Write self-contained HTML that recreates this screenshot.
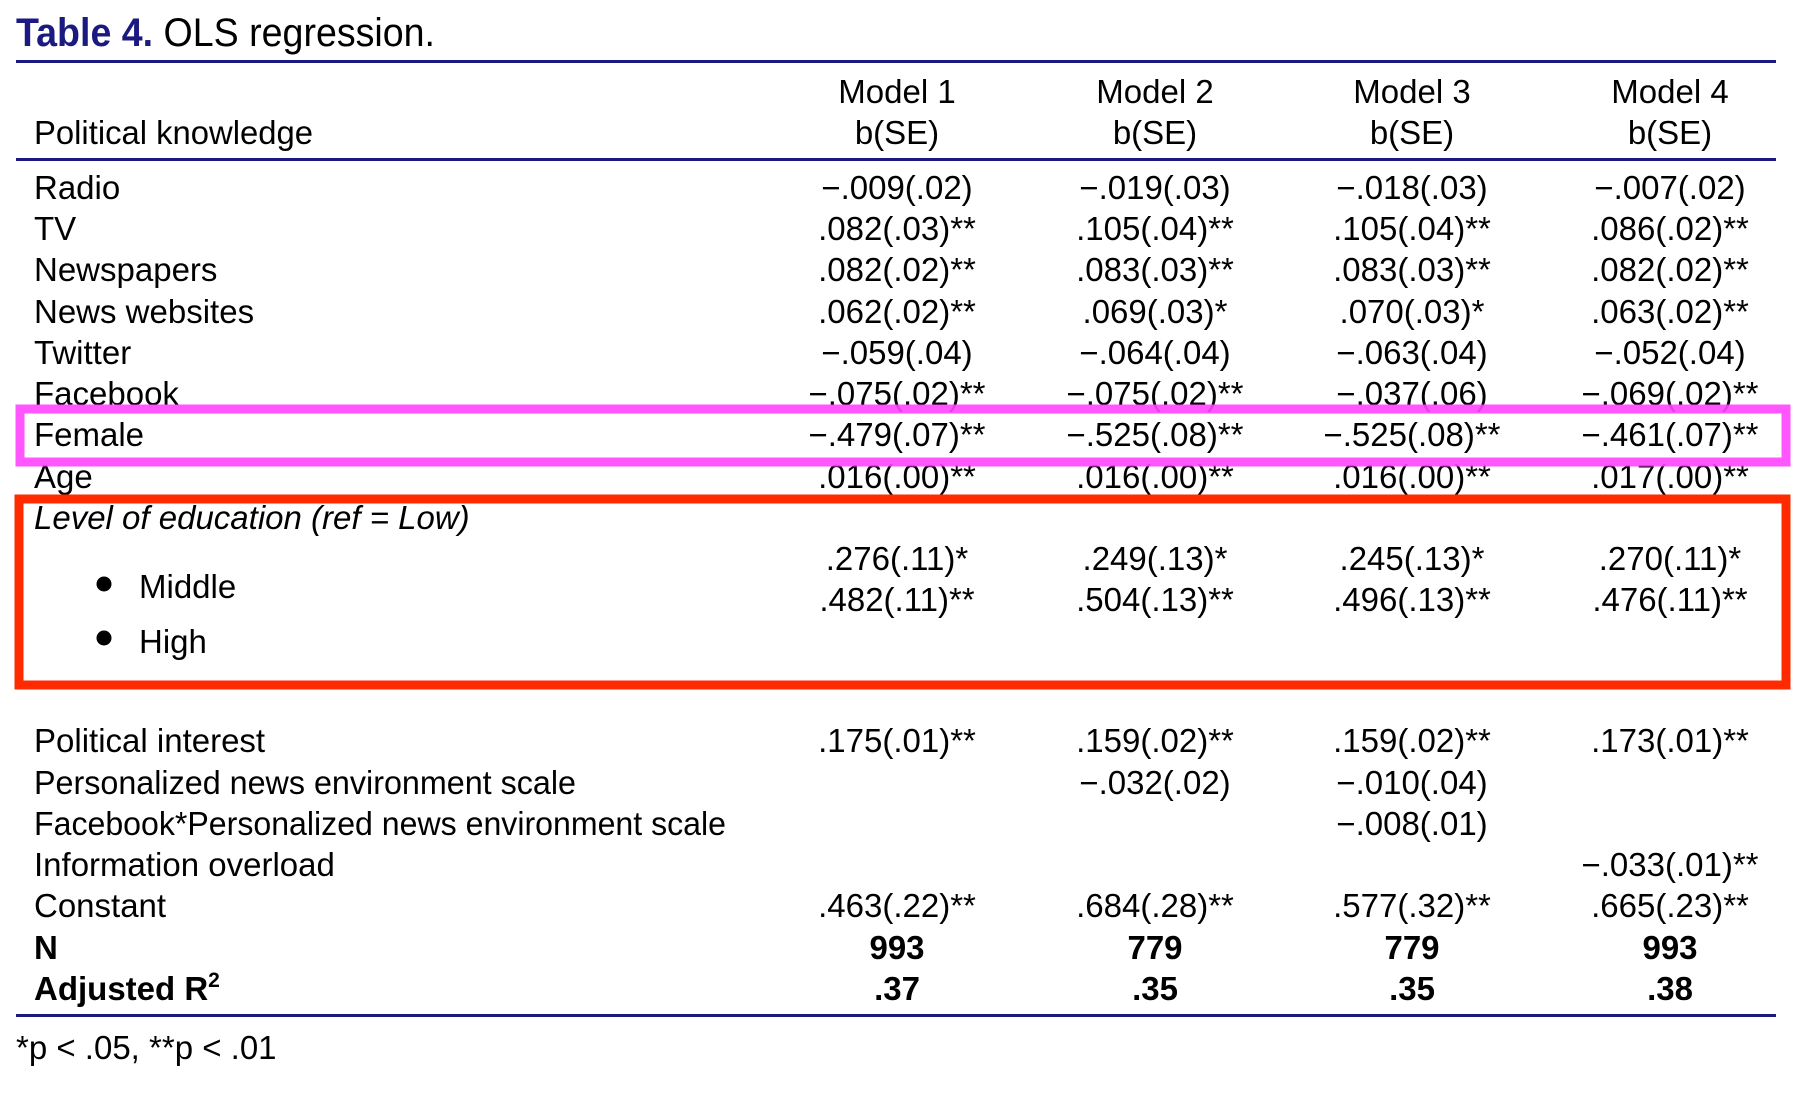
<!DOCTYPE html>
<html><head><meta charset="utf-8"><style>
html,body{margin:0;padding:0;background:#fff;}
svg{display:block;}
text{font-family:"Liberation Sans Narrow","Liberation Sans",sans-serif;font-size:33px;fill:#000;}
.v{text-anchor:middle;}
.b{font-weight:bold;}
</style></head><body>
<svg width="1796" height="1095" viewBox="0 0 1796 1095" xmlns="http://www.w3.org/2000/svg">
<text x="16" y="46" style="font-size:40px" textLength="419" lengthAdjust="spacingAndGlyphs"><tspan font-weight="bold" fill="#1a1a80">Table 4.</tspan> OLS regression.</text>
<rect x="16" y="60" width="1760" height="3" fill="#1a1a80"/>
<text class="v" x="897" y="103">Model 1</text><text class="v" x="897" y="144">b(SE)</text>
<text class="v" x="1155" y="103">Model 2</text><text class="v" x="1155" y="144">b(SE)</text>
<text class="v" x="1412" y="103">Model 3</text><text class="v" x="1412" y="144">b(SE)</text>
<text class="v" x="1670" y="103">Model 4</text><text class="v" x="1670" y="144">b(SE)</text>
<text x="34" y="144" textLength="279" lengthAdjust="spacingAndGlyphs">Political knowledge</text>
<rect x="16" y="158" width="1760" height="3" fill="#1a1a80"/>

<text x="34" y="199">Radio</text>
<text class="v" x="897" y="199">−.009(.02)</text><text class="v" x="1155" y="199">−.019(.03)</text><text class="v" x="1412" y="199">−.018(.03)</text><text class="v" x="1670" y="199">−.007(.02)</text>
<text x="34" y="240">TV</text>
<text class="v" x="897" y="240">.082(.03)**</text><text class="v" x="1155" y="240">.105(.04)**</text><text class="v" x="1412" y="240">.105(.04)**</text><text class="v" x="1670" y="240">.086(.02)**</text>
<text x="34" y="281">Newspapers</text>
<text class="v" x="897" y="281">.082(.02)**</text><text class="v" x="1155" y="281">.083(.03)**</text><text class="v" x="1412" y="281">.083(.03)**</text><text class="v" x="1670" y="281">.082(.02)**</text>
<text x="34" y="323">News websites</text>
<text class="v" x="897" y="323">.062(.02)**</text><text class="v" x="1155" y="323">.069(.03)*</text><text class="v" x="1412" y="323">.070(.03)*</text><text class="v" x="1670" y="323">.063(.02)**</text>
<text x="34" y="364">Twitter</text>
<text class="v" x="897" y="364">−.059(.04)</text><text class="v" x="1155" y="364">−.064(.04)</text><text class="v" x="1412" y="364">−.063(.04)</text><text class="v" x="1670" y="364">−.052(.04)</text>
<text x="34" y="405">Facebook</text>
<text class="v" x="897" y="405">−.075(.02)**</text><text class="v" x="1155" y="405">−.075(.02)**</text><text class="v" x="1412" y="405">−.037(.06)</text><text class="v" x="1670" y="405">−.069(.02)**</text>
<text x="34" y="446">Female</text>
<text class="v" x="897" y="446">−.479(.07)**</text><text class="v" x="1155" y="446">−.525(.08)**</text><text class="v" x="1412" y="446">−.525(.08)**</text><text class="v" x="1670" y="446">−.461(.07)**</text>
<text x="34" y="488">Age</text>
<text class="v" x="897" y="488">.016(.00)**</text><text class="v" x="1155" y="488">.016(.00)**</text><text class="v" x="1412" y="488">.016(.00)**</text><text class="v" x="1670" y="488">.017(.00)**</text>
<text x="34" y="529" font-style="italic">Level of education (ref = Low)</text>
<text class="v" x="897" y="570">.276(.11)*</text><text class="v" x="1155" y="570">.249(.13)*</text><text class="v" x="1412" y="570">.245(.13)*</text><text class="v" x="1670" y="570">.270(.11)*</text>
<text class="v" x="897" y="611">.482(.11)**</text><text class="v" x="1155" y="611">.504(.13)**</text><text class="v" x="1412" y="611">.496(.13)**</text><text class="v" x="1670" y="611">.476(.11)**</text>
<circle cx="104" cy="584" r="7.5" fill="#000"/><text x="139" y="598">Middle</text>
<circle cx="104" cy="638" r="7.5" fill="#000"/><text x="139" y="653">High</text>

<text x="34" y="752">Political interest</text>
<text class="v" x="897" y="752">.175(.01)**</text><text class="v" x="1155" y="752">.159(.02)**</text><text class="v" x="1412" y="752">.159(.02)**</text><text class="v" x="1670" y="752">.173(.01)**</text>
<text x="34" y="794" textLength="542" lengthAdjust="spacingAndGlyphs">Personalized news environment scale</text>
<text class="v" x="1155" y="794">−.032(.02)</text><text class="v" x="1412" y="794">−.010(.04)</text>
<text x="34" y="835" textLength="692" lengthAdjust="spacingAndGlyphs">Facebook*Personalized news environment scale</text>
<text class="v" x="1412" y="835">−.008(.01)</text>
<text x="34" y="876">Information overload</text>
<text class="v" x="1670" y="876">−.033(.01)**</text>
<text x="34" y="917">Constant</text>
<text class="v" x="897" y="917">.463(.22)**</text><text class="v" x="1155" y="917">.684(.28)**</text><text class="v" x="1412" y="917">.577(.32)**</text><text class="v" x="1670" y="917">.665(.23)**</text>
<text x="34" y="959" class="b">N</text>
<text class="v b" x="897" y="959">993</text><text class="v b" x="1155" y="959">779</text><text class="v b" x="1412" y="959">779</text><text class="v b" x="1670" y="959">993</text>
<text x="34" y="1000" class="b">Adjusted R<tspan dy="-13" style="font-size:21px">2</tspan></text>
<text class="v b" x="897" y="1000">.37</text><text class="v b" x="1155" y="1000">.35</text><text class="v b" x="1412" y="1000">.35</text><text class="v b" x="1670" y="1000">.38</text>
<rect x="16" y="1014" width="1760" height="3" fill="#1a1a80"/>
<text x="16" y="1059">*p &lt; .05, **p &lt; .01</text>

<rect x="20" y="409" width="1766" height="53" fill="none" stroke="#ff44ff" stroke-width="9" opacity="0.9"/>
<rect x="19" y="499" width="1767" height="186" fill="none" stroke="#ff2a00" stroke-width="9"/>
</svg>
</body></html>
